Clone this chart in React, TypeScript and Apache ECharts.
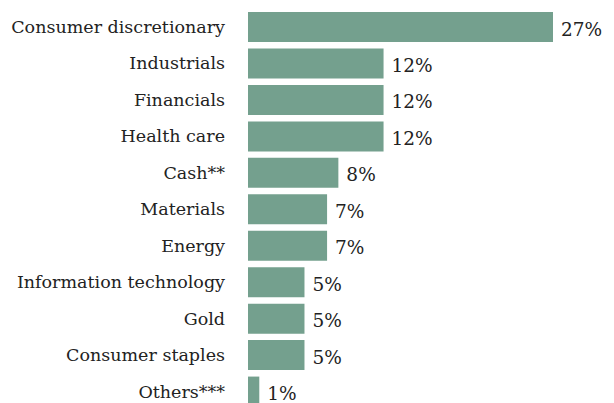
import React, { useEffect, useRef } from "react";
import * as echarts from "echarts";

const categories = [
  "Consumer discretionary",
  "Industrials",
  "Financials",
  "Health care",
  "Cash**",
  "Materials",
  "Energy",
  "Information technology",
  "Gold",
  "Consumer staples",
  "Others***",
];
const values = [27, 12, 12, 12, 8, 7, 7, 5, 5, 5, 1];

export default function App() {
  const ref = useRef<HTMLDivElement>(null);
  useEffect(() => {
    if (!ref.current) return;
    const chart = echarts.init(ref.current, undefined, { renderer: "svg" });
    const font = "DejaVu Serif";
    chart.setOption({
      animation: false,
      textStyle: { fontFamily: font },
      grid: {
        left: 248,
        top: 8.8,
        width: 305,
        height: 401,
        containLabel: false,
        outerBoundsMode: "none",
      },
      xAxis: { type: "value", min: 0, max: 27, show: false },
      yAxis: {
        type: "category",
        data: categories,
        inverse: true,
        axisLine: { show: false },
        axisTick: { show: false },
        splitLine: { show: false },
        axisLabel: {
          margin: 23,
          fontSize: 17.5,
          color: "#222",
          fontFamily: font,
        },
      },
      series: [
        {
          type: "bar",
          data: values,
          barWidth: 30,
          itemStyle: { color: "#74a08e" },
          label: {
            show: true,
            position: "right",
            distance: 8,
            fontSize: 18.5,
            color: "#222",
            fontFamily: font,
            offset: [0, 2],
            formatter: (p: any) => p.value + "%",
          },
        },
      ],
    });
    return () => chart.dispose();
  }, []);
  return (
    <div
      ref={ref}
      style={{ position: "fixed", left: 0, top: 0, width: 614, height: 403, background: "#fff" }}
    />
  );
}
